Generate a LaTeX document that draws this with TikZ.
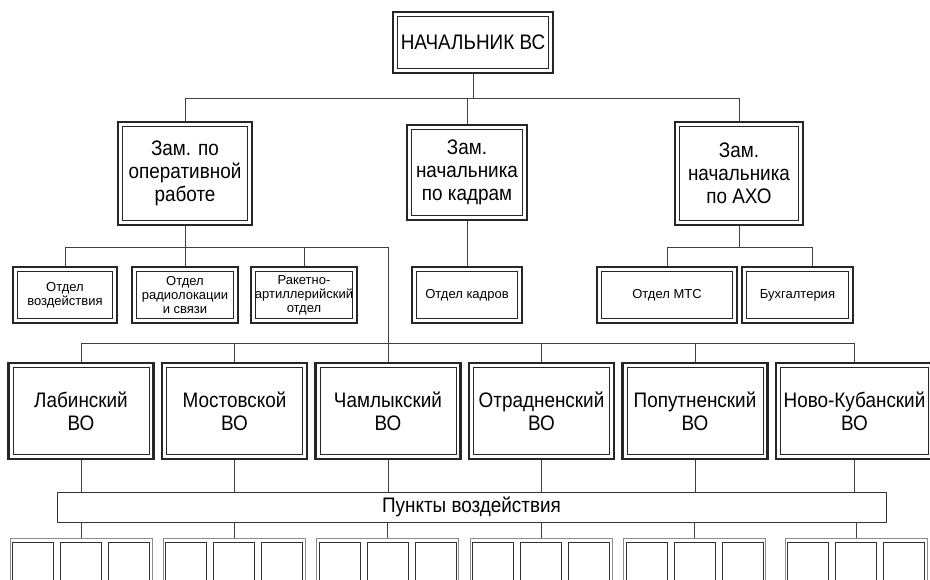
\documentclass[tikz,border=0pt]{standalone}
\usepackage{fontspec}
\setmainfont{Liberation Sans}
\newfontfamily\narrowfont{Liberation Sans}[FakeStretch=0.9]
\usetikzlibrary{positioning}

\begin{document}
\begin{tikzpicture}[
    x=1pt, y=-1pt,
    node distance=6.1pt,
    unit/.style={draw=black!85, line width=2.4pt, align=center,
      inner sep=0pt, font=\narrowfont\fontsize{21}{23}\selectfont,
      path picture={\draw[line width=0.6pt, black!85]
        ([shift={(4.5pt,4.5pt)}]path picture bounding box.south west)
        rectangle ([shift={(-4.5pt,-4.5pt)}]path picture bounding box.north east);}},
    dept/.style={unit, font=\fontsize{13}{14}\selectfont, minimum height=56pt},
    vo/.style={unit, minimum width=145pt, minimum height=96pt},
    link/.style={draw=black!75, line width=0.7pt},
    group/.style={draw=black!45, line width=1pt, inner sep=0pt,
      minimum width=142pt, minimum height=60pt, anchor=north},
    post/.style={draw=black!80, line width=0.8pt, inner sep=0pt,
      minimum width=41pt, minimum height=50pt, anchor=north}
  ]
  \useasboundingbox (0,0) rectangle (930,579);
  \clip (0,0) rectangle (930,579);

  \node[unit, minimum width=160pt, minimum height=61pt] (chief) at (473,42.5)
    {НАЧАЛЬНИК ВС};

  \node[unit, minimum width=134pt, minimum height=103pt] (oper) at (185,173.5)
    {Зам. по\\оперативной\\работе};
  \node[unit, minimum width=120pt, minimum height=95pt] (kadr) at (467,172.5)
    {Зам.\\начальника\\по кадрам};
  \node[unit, minimum width=128pt, minimum height=103pt] (axo) at (739,173.5)
    {Зам.\\начальника\\по АХО};

  % отделы
  \node[dept, minimum width=104pt] (vozd) at (65,295) {Отдел\\воздействия};
  \node[dept, minimum width=106pt] (radio) at (185,295)
    {Отдел\\радиолокации\\и связи};
  \node[dept, minimum width=106pt] (raket) at (304,295)
    {Ракетно-\\артиллерийский\\отдел};
  \node[dept, minimum width=110pt] (otdkadr) at (467,295) {Отдел кадров};
  \node[dept, minimum width=140pt] (mts) at (667,295) {Отдел МТС};
  \node[dept, minimum width=111pt] (buh) at (797.5,295) {Бухгалтерия};

  % ВО
  \node[vo] (lab) at (81,411) {Лабинский\\ВО};
  \node[vo, right=of lab] (most) {Мостовской\\ВО};
  \node[vo, right=of most] (cham) {Чамлыкский\\ВО};
  \node[vo, right=of cham] (otr) {Отрадненский\\ВО};
  \node[vo, right=of otr] (pop) {Попутненский\\ВО};
  \node[vo, right=of pop, minimum width=157pt] (novo) {Ново-Кубанский\\ВО};

  \node[draw=black!80, line width=0.8pt, minimum width=829pt, minimum height=30pt,
    inner sep=0pt, font=\narrowfont\fontsize{21}{23}\selectfont]
    (punkty) at (471.5,507) {Пункты воздействия};

  \node[group] (g1) at (81,538) {};
  \node[group] (g2) at (234,538) {};
  \node[group] (g3) at (387.5,538) {};
  \node[group] (g4) at (541,538) {};
  \node[group] (g5) at (694.5,538) {};
  \node[group] (g6) at (856,538) {};
  \foreach \g in {g1,g2,g3,g4,g5,g6}
    \foreach \dx [count=\i] in {-48,0,48}
      \node[post] (\g-\i) at ([xshift=\dx pt, yshift=-4pt]\g.north) {};

  % линии
  \coordinate (bus1) at (0,98);
  \coordinate (bus2) at (0,247);
  \coordinate (bus3) at (0,343);
  \coordinate (buhtop) at ([xshift=14.5pt]buh.north);

  \draw[link] (chief.south) -- (chief.south |- bus1);
  \draw[link] (oper.north) -- (oper.north |- bus1) -- (axo.north |- bus1) -- (axo.north);
  \draw[link] (kadr.north) -- (kadr.north |- bus1);

  \draw[link] (oper.south) -- (oper.south |- bus2);
  \draw[link] (vozd.north) -- (vozd.north |- bus2) -- (cham.north |- bus2) -- (cham.north);
  \draw[link] (radio.north) -- (radio.north |- bus2);
  \draw[link] (raket.north) -- (raket.north |- bus2);

  \draw[link] (kadr) -- (otdkadr);

  \draw[link] (axo.south) -- (axo.south |- bus2);
  \draw[link] (mts.north) -- (mts.north |- bus2) -- (buhtop |- bus2) -- (buhtop);

  \draw[link] (lab.north) -- (lab.north |- bus3) -- (novo.north |- bus3) -- (novo.north);
  \draw[link] (most.north) -- (most.north |- bus3);
  \draw[link] (otr.north) -- (otr.north |- bus3);
  \draw[link] (pop.north) -- (pop.north |- bus3);

  \foreach \v in {lab,most,cham,otr,pop,novo}
    \draw[link] (\v.south) -- (\v.south |- punkty.north);
  \foreach \g in {g1,g2,g3,g4,g5,g6}
    \draw[link] (\g.north) -- (\g.north |- punkty.south);
\end{tikzpicture}
\end{document}
